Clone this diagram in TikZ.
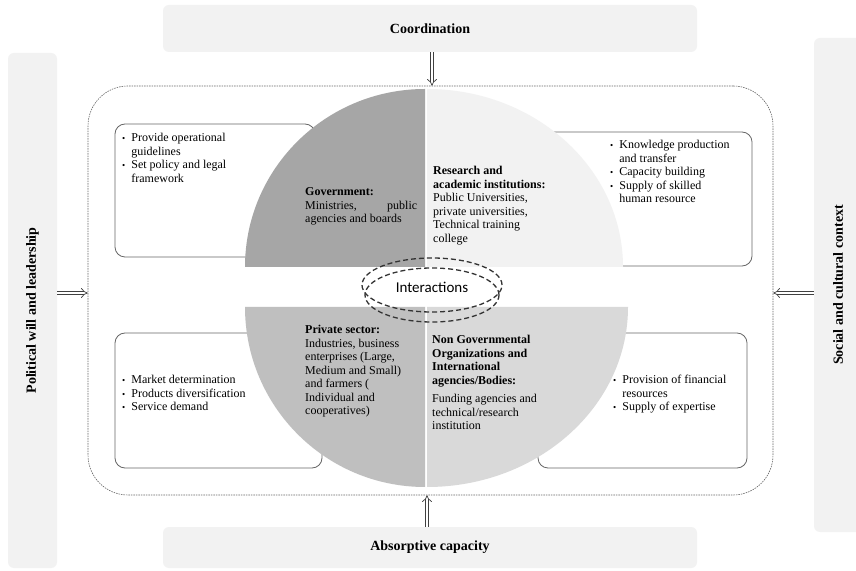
\documentclass[tikz,border=0pt]{standalone}
\usepackage{fontspec}
\setmainfont{Liberation Serif}
\newfontfamily\calibri{Carlito}
\usetikzlibrary{arrows.meta}

\definecolor{panelgray}{HTML}{F2F2F2}
\definecolor{govgray}{HTML}{A6A6A6}
\definecolor{resgray}{HTML}{F2F2F2}
\definecolor{prigray}{HTML}{BFBFBF}
\definecolor{ngogray}{HTML}{D9D9D9}

\newcommand{\bul}{{\fontsize{9}{9}\selectfont\textbullet}}

\begin{document}
\begin{tikzpicture}[x=1pt, y=1pt, font=\fontsize{12}{13.5}\selectfont,
  panel/.style={fill=panelgray, rounded corners=6pt, inner sep=0pt,
    font=\fontsize{14}{16}\selectfont\bfseries},
  frame/.style={draw=black!60, line width=0.6pt, dash pattern=on 1.5pt off 1pt,
    rounded corners=40pt, inner sep=0pt},
  listbox/.style={draw=black!60, line width=0.8pt, fill=white, rounded corners=10pt},
  txt/.style={anchor=base west, inner sep=0pt},
  ring/.style={draw=black!80, line width=1.3pt, dash pattern=on 5pt off 3pt},
  hollow/.style={draw=black!75, line width=0.7pt, double=white, double distance=2.8pt, -{Implies}}]
\useasboundingbox (0,0) rectangle (856,570);
\fill[white] (0,0) rectangle (856,570);

\node[panel, minimum width=534pt, minimum height=47pt] (coord) at (430,541.5) {Coordination};
\node[panel, minimum width=534pt, minimum height=41pt] (absorb) at (430,22.5) {Absorptive capacity};
\node[panel, rotate=90, minimum width=515pt, minimum height=49pt] (pol) at (32.5,259.5) {Political will and leadership};
\node[panel, rotate=90, minimum width=494pt, minimum height=48pt] (soc) at (838,285) {Social and cultural context};

\node[frame, minimum width=685pt, minimum height=409pt] (frame) at (430.5,279.5) {};

\draw[listbox] (115,313) rectangle (315,446);
\draw[listbox] (540,304) rectangle (752,438);
\draw[listbox] (115,102) rectangle (322,237);
\draw[listbox] (538,102) rectangle (747,237);

\fill[govgray] (425,303) -- (245,303) arc[start angle=180, end angle=90, x radius=180, y radius=178] -- cycle;
\fill[resgray] (427,303) -- (427,481) arc[start angle=90, end angle=0, x radius=196, y radius=178] -- cycle;
\fill[prigray] (425,263) -- (245,263) arc[start angle=180, end angle=270, x radius=180, y radius=180] -- cycle;
\fill[ngogray] (427,263) -- (427,83) arc[start angle=270, end angle=360, x radius=201, y radius=180] -- cycle;

\node[txt] (govlist) at (122,428) {\begin{tabular}[t]{@{}l@{\hspace{6pt}}l@{}}
  \bul & Provide operational\\ & guidelines\\
  \bul & Set policy and legal\\ & framework\end{tabular}};
\node[txt] (reslist) at (610,421) {\begin{tabular}[t]{@{}l@{\hspace{6pt}}l@{}}
  \bul & Knowledge production\\ & and transfer\\
  \bul & Capacity building\\
  \bul & Supply of skilled\\ & human resource\end{tabular}};
\node[txt] (prilist) at (122,186) {\begin{tabular}[t]{@{}l@{\hspace{6pt}}l@{}}
  \bul & Market determination\\
  \bul & Products diversification\\
  \bul & Service demand\end{tabular}};
\node[txt] (ngolist) at (613,186) {\begin{tabular}[t]{@{}l@{\hspace{6pt}}l@{}}
  \bul & Provision of financial\\ & resources\\
  \bul & Supply of expertise\end{tabular}};

\node[txt] (gov) at (305,374) {\begin{tabular}[t]{@{}p{112pt}@{}}
  \textbf{Government:}\\ Ministries,\hfill public\\ agencies and boards\end{tabular}};
\node[txt] (res) at (433,395) {\begin{tabular}[t]{@{}l@{}}
  \textbf{Research and}\\ \textbf{academic institutions:}\\ Public Universities,\\
  private universities,\\ Technical training\\ college\end{tabular}};
\node[txt] (pri) at (305,236) {\begin{tabular}[t]{@{}l@{}}
  \textbf{Private sector:}\\ Industries, business\\ enterprises (Large,\\
  Medium and Small)\\ and farmers (\\ Individual and\\ cooperatives)\end{tabular}};
\node[txt] (ngo) at (432,226) {\begin{tabular}[t]{@{}l@{}}
  \textbf{Non Governmental}\\ \textbf{Organizations and}\\ \textbf{International}\\
  \textbf{agencies/Bodies:}\\[5pt] Funding agencies and\\ technical/research\\ institution\end{tabular}};

\node[font=\calibri\fontsize{15}{18}\selectfont] (inter) at (432,283) {Interactions};
\draw[ring] (432,285) ellipse [x radius=70, y radius=27];
\draw[ring] (432,275) ellipse [x radius=67, y radius=27];

\coordinate (ca) at ([xshift=2pt]coord.south);
\coordinate (cb) at ([xshift=-3pt]absorb.north);
\coordinate (pa) at ([yshift=17.5pt]pol.south);
\coordinate (sa) at ([yshift=-8pt]soc.north);
\draw[hollow] (ca) -- (ca |- frame.north);
\draw[hollow] (cb) -- (cb |- frame.south);
\draw[hollow] (pa) -- (pa -| frame.west);
\draw[hollow] (sa) -- (sa -| frame.east);
\end{tikzpicture}
\end{document}
